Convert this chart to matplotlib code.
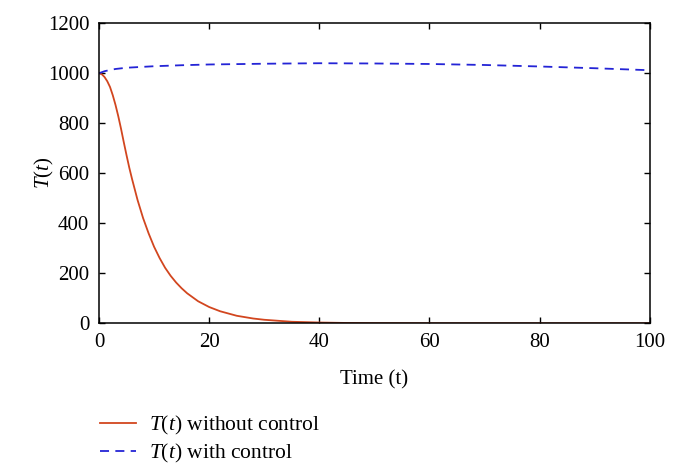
import numpy as np
import matplotlib
matplotlib.use('Agg')
import matplotlib.pyplot as plt

plt.rcParams['font.family'] = ['Liberation Serif', 'DejaVu Serif']
plt.rcParams['mathtext.fontset'] = 'custom'
plt.rcParams['mathtext.rm'] = 'Liberation Serif'
plt.rcParams['mathtext.it'] = 'Liberation Serif:italic'

# ---- data ----
t_free = [0, 0.5, 1, 1.5, 2, 2.5, 3, 3.5, 4, 4.5, 5, 5.5, 6, 7, 8, 9, 10, 11, 12, 13, 14, 15, 16, 18, 20, 22, 25, 28, 30, 35, 40, 45, 50, 60, 80, 100]
T_free = [1000, 996, 985, 968, 945, 912, 873, 828, 778, 724, 672, 622, 577, 493, 421, 360, 306, 261, 222, 190, 163, 140, 120, 88, 65, 48, 30, 19, 14, 6, 3, 1.2, 0.5, 0, 0, 0]

t_ctrl = [0, 1, 2, 3, 5, 10, 15, 20, 30, 40, 50, 60, 70, 80, 90, 100]
T_ctrl = [1000, 1008, 1013, 1017, 1022, 1028, 1032, 1035, 1038, 1040, 1039, 1037, 1033, 1027, 1020, 1012]

fig = plt.figure(figsize=(6.79, 4.74), dpi=100)
ax = fig.add_axes([0.1458, 0.318, 0.8112, 0.633])

l1, = ax.plot(t_free, T_free, color='#d2461f', lw=1.3, label='$T(t)$ without control')
l2, = ax.plot(t_ctrl, T_ctrl, color='#2424d6', lw=1.3, ls=(0, (5, 3.5)), label='$T(t)$ with control')

ax.set_xlim(0, 100)
ax.set_ylim(0, 1200)
ax.set_xticks([0, 20, 40, 60, 80, 100])
ax.set_yticks([0, 200, 400, 600, 800, 1000, 1200])
ax.tick_params(direction='in', top=True, right=True, length=4, width=1, labelsize=15, pad=7)
for s in ax.spines.values():
    s.set_linewidth(1.1)
ax.set_xlabel('Time (t)', fontsize=15, labelpad=13)
ax.set_ylabel('$T(t)$', fontsize=15, labelpad=-6)

fig.legend(handles=[l1, l2], loc='upper left', bbox_to_anchor=(0.147, 0.126), frameon=False,
           fontsize=15.5, handlelength=1.7, handletextpad=0.6, labelspacing=0.2,
           borderpad=0, borderaxespad=0)

fig.savefig('out.png', dpi=100)
